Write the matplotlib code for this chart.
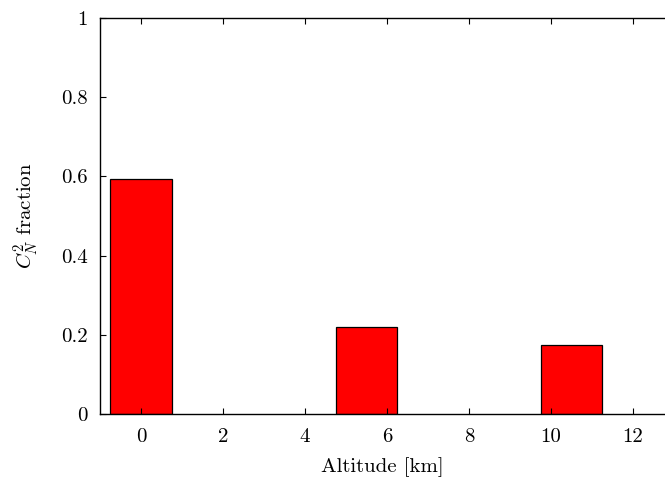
import matplotlib
matplotlib.use('Agg')
import matplotlib.pyplot as plt

# Datos
altitudes = [0, 5.5, 10.5]
fracciones = [0.593, 0.219, 0.174]
x_ticks = [0, 2, 4, 6, 8, 10, 12]
y_ticks = [0, 0.2, 0.4, 0.6, 0.8, 1]
y_labels = ['0', '0.2', '0.4', '0.6', '0.8', '1']

plt.rcParams['font.family'] = 'serif'
plt.rcParams['font.serif'] = ['cmr10']
plt.rcParams['mathtext.fontset'] = 'cm'
plt.rcParams['axes.formatter.use_mathtext'] = True

fig = plt.figure(figsize=(6.65, 4.79), dpi=100)
ax = fig.add_axes([100 / 665, 1 - 414 / 479, 1 - 100 / 665, (414 - 18) / 479])

ax.bar(altitudes, fracciones, width=1.5, color='#ff0000', edgecolor='k', linewidth=0.9)

ax.set_xlim(-1, 12.78)
ax.set_ylim(0, 1)
ax.set_xticks(x_ticks)
ax.set_xticklabels([str(t) for t in x_ticks])
ax.set_yticks(y_ticks)
ax.set_yticklabels(y_labels)
ax.tick_params(direction='in', length=4, width=0.8, labelsize=15, top=True, right=False)
ax.tick_params(axis='x', pad=10)
ax.tick_params(axis='y', pad=9)
ax.spines['right'].set_visible(False)
for s in ['left', 'bottom', 'top']:
    ax.spines[s].set_linewidth(1.0)

ax.set_xlabel('Altitude [km]', fontsize=15, labelpad=8)
ax.set_ylabel(r'$C_N^2$ fraction', fontsize=15, labelpad=14)

fig.savefig('out.png', dpi=100)
